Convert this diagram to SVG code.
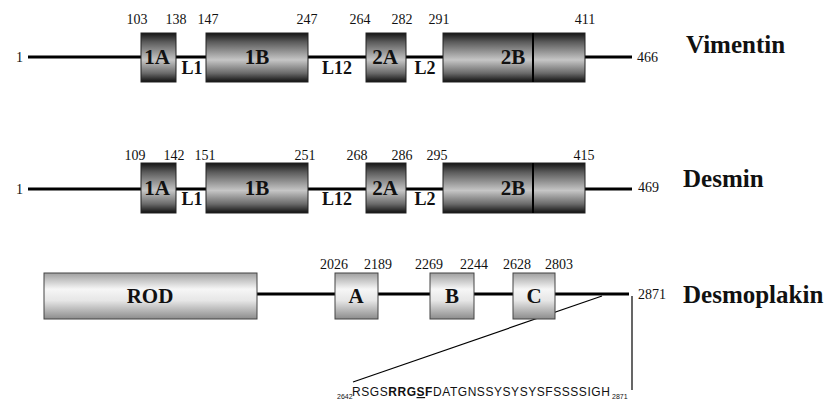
<svg xmlns="http://www.w3.org/2000/svg" width="826" height="402" viewBox="0 0 826 402">
<defs>
<linearGradient id="gIF" x1="0" y1="0" x2="0" y2="1">
<stop offset="0" stop-color="#151515"/>
<stop offset="0.18" stop-color="#5a5a5a"/>
<stop offset="0.55" stop-color="#c6c6c6"/>
<stop offset="0.82" stop-color="#6a6a6a"/>
<stop offset="1" stop-color="#101010"/>
</linearGradient>
<linearGradient id="gDP" x1="0" y1="0" x2="0" y2="1">
<stop offset="0" stop-color="#a0a0a0"/>
<stop offset="0.35" stop-color="#f6f6f6"/>
<stop offset="0.6" stop-color="#e6e6e6"/>
<stop offset="1" stop-color="#8c8c8c"/>
</linearGradient>
<style>
.if{fill:url(#gIF);stroke:#222;stroke-width:1}
.dp{fill:url(#gDP);stroke:#444;stroke-width:1}
.bb{stroke:#000;stroke-width:3;fill:none}
.thin{stroke:#000;stroke-width:1.2;fill:none}
.num{font-family:"Liberation Serif","Times New Roman",serif;font-size:14px;fill:#111}
.lab{font-family:"Liberation Serif","Times New Roman",serif;font-size:21px;font-weight:bold;fill:#111;text-anchor:middle}
.loop{font-family:"Liberation Serif","Times New Roman",serif;font-size:18px;font-weight:bold;fill:#111;text-anchor:middle}
.name{font-family:"Liberation Serif","Times New Roman",serif;font-size:25px;font-weight:bold;fill:#111}
.seq{font-family:"Liberation Sans",Arial,sans-serif;font-size:12px;fill:#111;letter-spacing:0.55px}
.sub{font-family:"Liberation Sans",Arial,sans-serif;font-size:7px;fill:#111}
.c{text-anchor:middle}
</style>
</defs>
<rect width="826" height="402" fill="#fff"/>

<g id="connectors">
<line class="bb" x1="28" y1="57" x2="632" y2="57"/>
<line class="bb" x1="28" y1="189" x2="632" y2="189"/>
<line class="bb" x1="257" y1="294" x2="629" y2="294"/>
<line class="thin" x1="632" y1="296" x2="632" y2="390"/>
<line class="thin" x1="602" y1="296" x2="353" y2="382"/>
</g>

<g id="vimentin">
<text class="num" x="16" y="62">1</text>
<g id="v-1A"><rect class="if" x="141" y="33" width="35" height="49"/><text class="lab" x="157" y="64">1A</text></g>
<g id="v-1B"><rect class="if" x="206" y="33" width="102" height="49"/><text class="lab" x="257" y="64">1B</text></g>
<g id="v-2A"><rect class="if" x="366" y="33" width="40" height="49"/><text class="lab" x="385" y="64">2A</text></g>
<g id="v-2B"><rect class="if" x="443" y="33" width="142" height="49"/><line x1="533" y1="33" x2="533" y2="82" stroke="#000" stroke-width="2"/><text class="lab" x="513" y="64">2B</text></g>
<text class="loop" x="192" y="74">L1</text>
<text class="loop" x="337" y="74">L12</text>
<text class="loop" x="425" y="74">L2</text>
<text class="num c" x="137" y="24">103</text>
<text class="num c" x="176" y="24">138</text>
<text class="num c" x="208" y="24">147</text>
<text class="num c" x="307" y="24">247</text>
<text class="num c" x="360" y="24">264</text>
<text class="num c" x="402" y="24">282</text>
<text class="num c" x="439" y="24">291</text>
<text class="num c" x="585" y="24">411</text>
<text class="num" x="637" y="62">466</text>
<text class="name" x="686" y="53">Vimentin</text>
</g>

<g id="desmin">
<text class="num" x="16" y="194">1</text>
<g id="d-1A"><rect class="if" x="141" y="163" width="35" height="50"/><text class="lab" x="157" y="195">1A</text></g>
<g id="d-1B"><rect class="if" x="206" y="163" width="102" height="50"/><text class="lab" x="257" y="195">1B</text></g>
<g id="d-2A"><rect class="if" x="366" y="163" width="40" height="50"/><text class="lab" x="385" y="195">2A</text></g>
<g id="d-2B"><rect class="if" x="443" y="163" width="142" height="50"/><line x1="533" y1="163" x2="533" y2="213" stroke="#000" stroke-width="2"/><text class="lab" x="513" y="195">2B</text></g>
<text class="loop" x="192" y="205">L1</text>
<text class="loop" x="337" y="205">L12</text>
<text class="loop" x="425" y="205">L2</text>
<text class="num c" x="135" y="160">109</text>
<text class="num c" x="174" y="160">142</text>
<text class="num c" x="205" y="160">151</text>
<text class="num c" x="305" y="160">251</text>
<text class="num c" x="357" y="160">268</text>
<text class="num c" x="402" y="160">286</text>
<text class="num c" x="437" y="160">295</text>
<text class="num c" x="584" y="160">415</text>
<text class="num" x="638" y="192">469</text>
<text class="name" x="683" y="187">Desmin</text>
</g>

<g id="desmoplakin">
<g id="dp-ROD"><rect class="dp" x="44" y="273" width="213" height="46"/><text class="lab" x="150" y="303">ROD</text></g>
<g id="dp-A"><rect class="dp" x="335" y="273" width="43" height="46"/><text class="lab" x="356" y="303">A</text></g>
<g id="dp-B"><rect class="dp" x="430" y="273" width="44" height="46"/><text class="lab" x="452" y="303">B</text></g>
<g id="dp-C"><rect class="dp" x="513" y="273" width="42" height="46"/><text class="lab" x="534" y="303">C</text></g>
<text class="num c" x="334" y="269">2026</text>
<text class="num c" x="378" y="269">2189</text>
<text class="num c" x="429" y="269">2269</text>
<text class="num c" x="474" y="269">2244</text>
<text class="num c" x="517" y="269">2628</text>
<text class="num c" x="559" y="269">2803</text>
<text class="num" x="638" y="299">2871</text>
<text class="name" x="683" y="303">Desmoplakin</text>
</g>

<g id="sequence">
<text class="sub" x="337" y="399">2642</text>
<text class="seq" x="352" y="396">RSGS<tspan font-weight="bold">RRG<tspan text-decoration="underline">S</tspan>F</tspan>DATGNSSYSYSYSFSSSSIGH</text>
<text class="sub" x="612" y="399">2871</text>
</g>
</svg>
